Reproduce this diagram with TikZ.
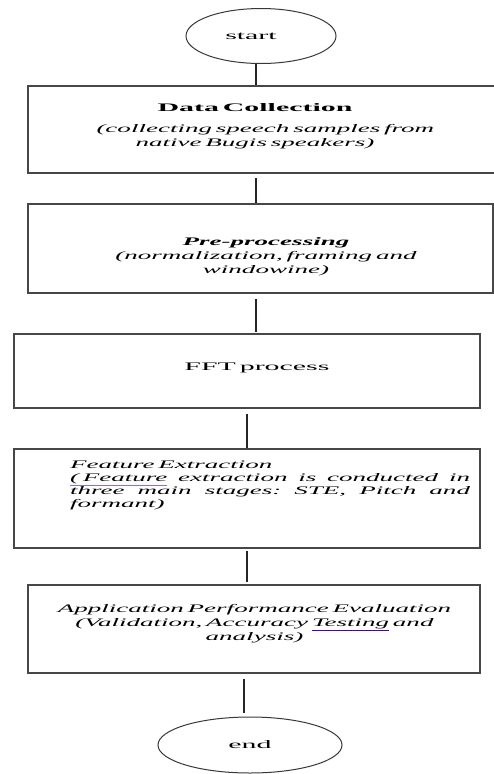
\documentclass[tikz,border=0pt]{standalone}
\usepackage{fontspec}
\setmainfont{Liberation Serif}[FakeStretch=2.6]
\newfontface\itface{Liberation Serif Italic}[FakeStretch=2.35]
\newfontface\bitface{Liberation Serif Bold Italic}[FakeStretch=2.35]
\usetikzlibrary{shapes.geometric}

% fonts of the box texts
\newcommand{\boxfont}{\fontsize{11.5}{14}\selectfont}
\newcommand{\featfont}{\fontsize{11.5}{13}\selectfont\itface}
% italic runs in their own narrower face
\newcommand{\itx}[1]{{\itface #1}}
% underline drawn in a colour of its own
\newcommand{\bluline}[2][blue!55]{{\color{#1}\underline{\color{black}#2}}}
% one line set out to a given width
\newcommand{\spreadline}[2]{\makebox[#1][s]{#2}}

\begin{document}
\begin{tikzpicture}[x=1pt,y=-1pt,
  stepbox/.style={draw=black!72, line width=1.2pt, rectangle, inner sep=0pt},
  terminal/.style={draw=black!78, line width=1pt, ellipse, inner sep=0pt},
  txt/.style={anchor=base, inner sep=0pt, text width=#1, align=center,
    font=\boxfont},
  txt/.default=460pt,
  link/.style={draw=black!85, line width=1.2pt}]

% Page size
\useasboundingbox (0,0) rectangle (494,774);
\clip (0,0) rectangle (494,774);

% Terminals
\node[terminal, minimum width=150pt, minimum height=55pt] (start) at (261,36) {};
\node[txt] (start-txt) at (251,39) {start};
\node[terminal, minimum width=184pt, minimum height=56pt,
  font=\boxfont] (stop) at (250,745) {end};

% Process boxes
\node[stepbox, minimum width=472pt, minimum height=87pt] (collect) at (264,129.5) {};
\node[stepbox, minimum width=465pt, minimum height=89pt] (prep) at (260.5,248.5) {};
\node[stepbox, minimum width=466pt, minimum height=74pt] (fft) at (247,371) {};
\node[stepbox, minimum width=466pt, minimum height=99pt] (feat) at (247,498.5) {};
\node[stepbox, minimum width=452pt, minimum height=88pt] (eval) at (254,629) {};

% Box texts
\node[txt] (collect-txt) at (255,111) {\textbf{Data Collection}\\[7pt]
  \itx{\spreadline{317pt}{(collecting speech samples from}}\\ \itx{native Bugis speakers)}};
\node[txt] (prep-txt) at (266,245) {{\bitface Pre-processing}\\
  \itx{(normalization, framing and}\\ \itx{windowine)}};
\node[txt] (fft-txt) at (257,370) {FFT process};
\node[txt=400pt, align=left, font=\featfont] (feat-txt) at (270,468)
  {Feature Extraction\\
  \makebox[400pt][l]{\bluline{( Feature}\hfill extraction\hfill is\hfill conducted\hfill in}\\
  \makebox[400pt][l]{three\hfill main\hfill stages:\hfill STE,\hfill Pitch\hfill and}\\ formant)};
\node[txt] (eval-txt) at (254.5,612) {\itx{Application Performance Evaluation}\\
  \itx{(Validation, Accuracy \bluline[blue!70!red]{Testing} and}\\ \itx{analysis)}};

% Connectors
\coordinate (lineA) at (256,0);
\coordinate (lineB) at (247,0);
\coordinate (lineC) at (244,0);
\draw[link] (start.south -| lineA) -- (collect.north -| lineA);
\draw[link, shorten <=4pt] (collect.south -| lineA) -- (prep.north -| lineA);
\draw[link, shorten <=5pt, shorten >=1pt] (prep.south -| lineA) -- (fft.north -| lineA);
\draw[link, shorten <=5pt] (fft.south -| lineB) -- (feat.north -| lineB);
\draw[link, shorten <=2pt, shorten >=2pt] (feat.south -| lineB) -- (eval.north -| lineB);
\draw[link, shorten <=5pt, shorten >=4pt] (eval.south -| lineC) -- (stop.north -| lineC);

\end{tikzpicture}
\end{document}
